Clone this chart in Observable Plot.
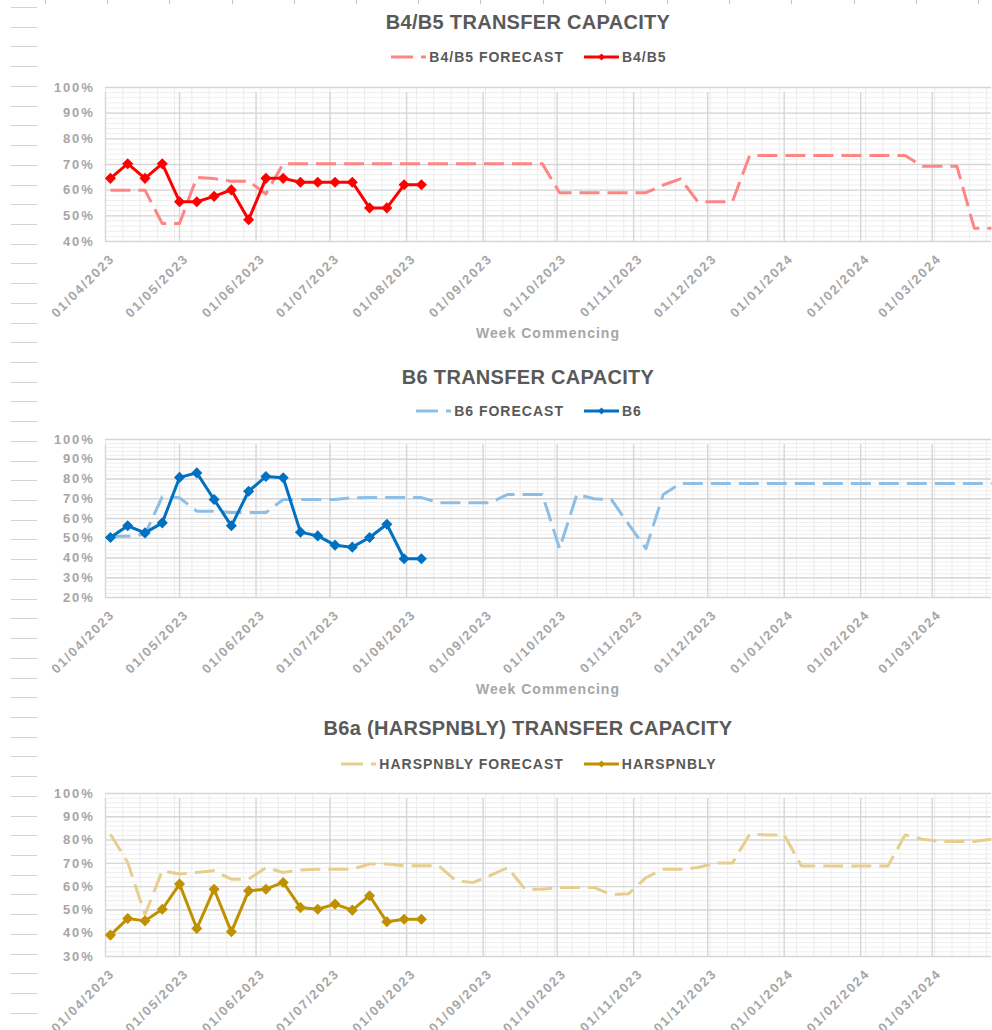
<!DOCTYPE html>
<html>
<head>
<meta charset="utf-8">
<script src="https://cdn.jsdelivr.net/npm/d3@7"></script>
<script src="https://cdn.jsdelivr.net/npm/@observablehq/plot@0.6"></script>
<style>
  html, body { margin: 0; padding: 0; background: #fff; }
  body { width: 992px; height: 1030px; overflow: hidden; position: relative; font-family: "Liberation Sans", Arial, sans-serif; }
  .abs { position: absolute; }
  .title { left: 0; width: 1056px; text-align: center; font-size: 20px; font-weight: bold; color: #595959; line-height: 24px; letter-spacing: 0.3px; }
  .legend { left: 0; width: 1058px; display: flex; justify-content: center; align-items: center; height: 18px; font-size: 14px; font-weight: bold; color: #595959; letter-spacing: 1px; }
  .legend .item { display: flex; align-items: center; }
  .legend .item + .item { margin-left: 20px; }
  .legend svg { margin-right: 3px; }
  .wc { left: 0; width: 1096px; text-align: center; font-size: 14px; font-weight: bold; color: #a6a6a6; letter-spacing: 1px; line-height: 18px; }
  .deco-row { position: absolute; left: 11px; width: 26px; height: 1px; background: #d2d2d2; }
  .deco-col { position: absolute; top: 0; width: 1px; height: 4px; background: #c4c4c4; }
</style>
</head>
<body>
<div id="root"></div>
<script>
// ---------- data ----------
const weeks = [
  "2023-04-03","2023-04-10","2023-04-17","2023-04-24",
  "2023-05-01","2023-05-08","2023-05-15","2023-05-22","2023-05-29",
  "2023-06-05","2023-06-12","2023-06-19","2023-06-26",
  "2023-07-03","2023-07-10","2023-07-17","2023-07-24","2023-07-31",
  "2023-08-07","2023-08-14","2023-08-21","2023-08-28",
  "2023-09-04","2023-09-11","2023-09-18","2023-09-25",
  "2023-10-02","2023-10-09","2023-10-16","2023-10-23","2023-10-30",
  "2023-11-06","2023-11-13","2023-11-20","2023-11-27",
  "2023-12-04","2023-12-11","2023-12-18","2023-12-25",
  "2024-01-01","2024-01-08","2024-01-15","2024-01-22","2024-01-29",
  "2024-02-05","2024-02-12","2024-02-19","2024-02-26",
  "2024-03-04","2024-03-11","2024-03-18","2024-03-25"
];
const monthTicks = [
  "2023-04-01","2023-05-01","2023-06-01","2023-07-01","2023-08-01","2023-09-01",
  "2023-10-01","2023-11-01","2023-12-01","2024-01-01","2024-02-01","2024-03-01"
];
const xStart = "2023-04-01";
const xEnd = "2024-03-25";

const b45Actual = [64.6, 70.3, 64.6, 70.3, 55.5, 55.5, 57.6, 60.1, 48.5, 64.6, 64.6, 63.1, 63.1, 63.1, 63.1, 53.1, 53.1, 62.1, 62.1];
const b45Forecast = [
  60, 60, 60, 47, 47, 65, 64.5, 63.5, 63.5, 58.5,
  70.3, 70.3, 70.3, 70.3, 70.3, 70.3, 70.3, 70.3, 70.3, 70.3, 70.3, 70.3, 70.3, 70.3, 70.3, 70.3,
  59, 59, 59, 59, 59, 59, 62, 64.4, 55.5, 55.5, 55.5,
  73.5, 73.5, 73.5, 73.5, 73.5, 73.5, 73.5, 73.5, 73.5, 73.5,
  69.3, 69.3, 69.3, 45.2, 45.2
];
const b6Actual = [50.4, 56.3, 52.7, 57.8, 80.8, 83.1, 69.6, 56.3, 73.8, 81.3, 80.6, 53.1, 51.2, 46.5, 45.5, 50.4, 57.1, 39.6, 39.6];
const b6Forecast = [
  51, 51, 52, 71, 70.5, 63.7, 63.7, 63, 63, 63, 69.6, 69.6, 69.6, 69.6, 70.5, 70.6, 70.6, 70.6, 70.6,
  68, 68, 68, 68, 72.2, 72.2, 72.2, 44.8, 72.2, 70, 69.6, 57, 44.8, 72.2,
  77.7, 77.7, 77.7, 77.7, 77.7, 77.7, 77.7, 77.7, 77.7, 77.7, 77.7, 77.7, 77.7, 77.7, 77.7, 77.7, 77.7, 77.7, 77.7
];
const harActual = [39.2, 46.3, 45.3, 50.3, 61.1, 42.0, 58.9, 40.6, 58.2, 58.9, 61.8, 51.0, 50.3, 52.5, 49.9, 56.1, 44.9, 46.0, 46.0];
const harForecast = [
  82.5, 70.4, 48, 66.8, 65.4, 66.1, 66.8, 63.2, 63.2, 68.2, 66.1, 67.2, 67.5, 67.5, 67.5, 69.7, 69.7, 69, 69, 69,
  62.5, 61.8, 64.8, 68.2, 58.9, 58.9, 59.6, 59.6, 59.6, 56.5, 57, 63.9, 67.5, 67.5, 68.2, 70.1, 70.1,
  82.5, 82.2, 82.2, 68.9, 68.9, 68.9, 68.9, 68.9, 68.9, 82.2, 80.4, 79.4, 79.4, 79.4, 80.4
];

const ticksB45 = [40, 50, 60, 70, 80, 90, 100];
const ticksB6 = [20, 30, 40, 50, 60, 70, 80, 90, 100];
const ticksHar = [30, 40, 50, 60, 70, 80, 90, 100];

const charts = [
  { title: "B4/B5 TRANSFER CAPACITY", fName: "B4/B5 FORECAST", aName: "B4/B5",
    actual: b45Actual, forecast: b45Forecast, yTicks: ticksB45,
    aColor: "#ff0000", fColor: "#ff8585",
    titleY: 22, legendY: 57, plotTop: 87, plotH: 154 },
  { title: "B6 TRANSFER CAPACITY", fName: "B6 FORECAST", aName: "B6",
    actual: b6Actual, forecast: b6Forecast, yTicks: ticksB6,
    aColor: "#0070c0", fColor: "#8dbfe6",
    titleY: 377, legendY: 411, plotTop: 439, plotH: 158 },
  { title: "B6a (HARSPNBLY) TRANSFER CAPACITY", fName: "HARSPNBLY FORECAST", aName: "HARSPNBLY",
    actual: harActual, forecast: harForecast, yTicks: ticksHar,
    aColor: "#bf9000", fColor: "#e6cf8e",
    titleY: 728, legendY: 764, plotTop: 793, plotH: 163 }
];

// ---------- decoration (spreadsheet background) ----------
const root = document.getElementById("root");
for (let i = 0; i < 53; i++) {
  const r = document.createElement("div");
  r.className = "deco-row";
  r.style.top = (7 + 19.72 * i).toFixed(1) + "px";
  root.appendChild(r);
}
for (let j = 0; j < 16; j++) {
  const c = document.createElement("div");
  c.className = "deco-col";
  c.style.left = (45 + 62.2 * j).toFixed(1) + "px";
  root.appendChild(c);
}

// ---------- charts ----------
const fmt = d3.utcFormat("%d/%m/%Y");
const xDomain = [new Date(xStart), new Date(xEnd)];
const monthDates = monthTicks.map(d => new Date(d));
const minorX = d3.range(0, 52).map(k => d3.utcDay.offset(new Date(xStart), 7 * k));
const DASH = "20 8";

function swatch(color, dashed) {
  const ns = "http://www.w3.org/2000/svg";
  const s = document.createElementNS(ns, "svg");
  s.setAttribute("width", 35); s.setAttribute("height", 12);
  const l = document.createElementNS(ns, "line");
  l.setAttribute("x1", 0); l.setAttribute("x2", 35); l.setAttribute("y1", 6); l.setAttribute("y2", 6);
  l.setAttribute("stroke", color); l.setAttribute("stroke-width", 3);
  if (dashed) l.setAttribute("stroke-dasharray", "22 8");
  s.appendChild(l);
  if (!dashed) {
    const p = document.createElementNS(ns, "path");
    p.setAttribute("d", "M17.5,2.5 L21,6 L17.5,9.5 L14,6 Z");
    p.setAttribute("fill", color);
    s.appendChild(p);
  }
  return s;
}

for (const c of charts) {
  const yDomain = [c.yTicks[0], c.yTicks[c.yTicks.length - 1]];
  const fData = weeks.map((w, i) => ({ date: new Date(w), v: c.forecast[i] }));
  const aData = c.actual.map((v, i) => ({ date: new Date(weeks[i]), v }));
  const minorY = d3.range(yDomain[0], yDomain[1] + 0.01, 2);

  // title
  const t = document.createElement("div");
  t.className = "abs title";
  t.style.top = (c.titleY - 12) + "px";
  t.textContent = c.title;
  root.appendChild(t);

  // legend
  const lg = document.createElement("div");
  lg.className = "abs legend";
  lg.style.top = (c.legendY - 9) + "px";
  for (const [name, color, dashed] of [[c.fName, c.fColor, true], [c.aName, c.aColor, false]]) {
    const it = document.createElement("div");
    it.className = "item";
    it.appendChild(swatch(color, dashed));
    const sp = document.createElement("span");
    sp.textContent = name;
    it.appendChild(sp);
    lg.appendChild(it);
  }
  root.appendChild(lg);

  const mt = 10, mb = 100;
  const plot = Plot.plot({
    width: 992,
    height: mt + c.plotH + mb,
    marginTop: mt, marginBottom: mb, marginLeft: 105, marginRight: 1,
    x: { type: "utc", domain: xDomain, axis: null },
    y: { domain: yDomain, label: null },
    style: { fontFamily: "'Liberation Sans', Arial, sans-serif", background: "transparent", overflow: "visible", letterSpacing: "1.8px" },
    marks: [
      Plot.ruleY(minorY, { stroke: "#eeeeee", strokeWidth: 1 }),
      Plot.ruleX(minorX, { stroke: "#ececec", strokeWidth: 1 }),
      Plot.ruleY(c.yTicks, { stroke: "#d6d6d6", strokeWidth: 1.4 }),
      Plot.ruleX(monthDates, { y1: yDomain[0], y2: yDomain[1], insetBottom: -5, stroke: "#d6d6d6", strokeWidth: 1.4 }),
      Plot.axisY({ ticks: c.yTicks, tickFormat: d => d + "%", tickSize: 0, tickPadding: 11, label: null,
        fill: "#a6a6a6", fontSize: 13, fontWeight: "bold" }),
      Plot.text(monthDates, { x: d => d, text: d => fmt(d), frameAnchor: "bottom", rotate: -45,
        textAnchor: "end", lineAnchor: "middle", dx: 7, dy: 15,
        fill: "#a6a6a6", fontSize: 13, fontWeight: "bold" }),
      Plot.line(fData, { x: "date", y: "v", stroke: c.fColor, strokeWidth: 3,
        strokeDasharray: DASH, strokeLinecap: "butt", strokeLinejoin: "round" }),
      Plot.line(aData, { x: "date", y: "v", stroke: c.aColor, strokeWidth: 3, strokeLinejoin: "round" }),
      Plot.dot(aData, { x: "date", y: "v", symbol: "diamond2", r: 5, fill: c.aColor, stroke: "none" })
    ]
  });
  plot.style.position = "absolute";
  plot.style.left = "0px";
  plot.style.top = (c.plotTop - mt) + "px";
  root.appendChild(plot);

  const wc = document.createElement("div");
  wc.className = "abs wc";
  wc.style.top = (c.plotTop + c.plotH + 83) + "px";
  wc.textContent = "Week Commencing";
  root.appendChild(wc);
}
</script>
</body>
</html>
